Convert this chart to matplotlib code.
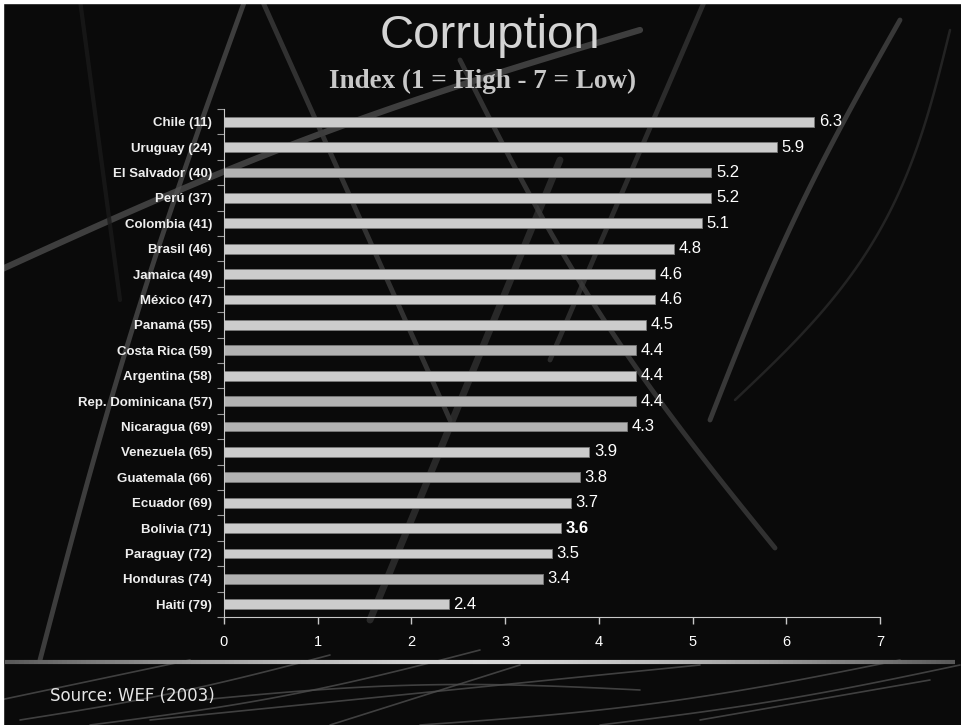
import numpy as np
import matplotlib.pyplot as plt
from matplotlib.collections import LineCollection

countries = ['Chile (11)', 'Uruguay (24)', 'El Salvador (40)', 'Perú (37)', 'Colombia (41)',
             'Brasil (46)', 'Jamaica (49)', 'México (47)', 'Panamá (55)', 'Costa Rica (59)',
             'Argentina (58)', 'Rep. Dominicana (57)', 'Nicaragua (69)', 'Venezuela (65)',
             'Guatemala (66)', 'Ecuador (69)', 'Bolivia (71)', 'Paraguay (72)', 'Honduras (74)',
             'Haití (79)']
scores = [6.3, 5.9, 5.2, 5.2, 5.1, 4.8, 4.6, 4.6, 4.5, 4.4, 4.4, 4.4, 4.3, 3.9, 3.8, 3.7,
          3.6, 3.5, 3.4, 2.4]
darker = ['El Salvador (40)', 'Costa Rica (59)', 'Rep. Dominicana (57)', 'Nicaragua (69)',
          'Guatemala (66)', 'Honduras (74)']
xticks = [0, 1, 2, 3, 4, 5, 6, 7]

BG = '#0a0a0a'
W, H = 962, 725

fig = plt.figure(figsize=(W / 100, H / 100), dpi=100, facecolor=BG)

# background streaks, drawn in pixel coords on a full-figure axes
bg = fig.add_axes([0, 0, 1, 1], zorder=0)
bg.set_xlim(0, W)
bg.set_ylim(H, 0)
bg.axis('off')
bg.set_facecolor(BG)


def streak(p0, p1, bend, lw, c, a):
    t = np.linspace(0, 1, 60)
    x = p0[0] + (p1[0] - p0[0]) * t
    y = p0[1] + (p1[1] - p0[1]) * t
    nx, ny = -(p1[1] - p0[1]), (p1[0] - p0[0])
    n = np.hypot(nx, ny)
    off = bend * np.sin(np.pi * t)
    bg.plot(x + off * nx / n, y + off * ny / n, color=c, lw=lw, alpha=a,
            solid_capstyle='round')


streak((245, 0), (40, 660), 10, 3.5, '#4a4a4a', 0.8)
streak((0, 270), (640, 30), -15, 4.5, '#505050', 0.75)
streak((262, 0), (450, 420), 0, 3.5, '#3c3c3c', 0.8)
streak((560, 160), (370, 620), 0, 5, '#303030', 0.8)
streak((460, 60), (775, 548), 20, 3.5, '#3c3c3c', 0.8)
streak((705, 0), (550, 360), 0, 3.5, '#3a3a3a', 0.7)
streak((900, 20), (710, 420), 10, 3.5, '#444444', 0.8)
streak((950, 30), (735, 400), -40, 1.8, '#2e2e2e', 0.7)
streak((80, 0), (120, 300), 0, 3, '#1a1a1a', 0.8)

# streaks below the separator
for p0, p1, b in [((20, 720), (330, 655), 5), ((90, 725), (480, 650), 8),
                  ((150, 720), (700, 665), 0), ((420, 725), (900, 660), 10),
                  ((600, 725), (960, 665), 5), ((200, 700), (640, 690), -10),
                  ((330, 725), (520, 665), 0), ((700, 720), (930, 680), 0),
                  ((0, 700), (190, 660), 0)]:
    streak(p0, p1, b, 1.2, '#4e4e4e', 0.8)

# gradient separator line
xs = np.linspace(5, 955, 200)
segs = [[(xs[i], 662), (xs[i + 1], 662)] for i in range(len(xs) - 1)]
g = 1 - np.abs(np.linspace(-1, 1, len(segs))) ** 1.5
cols = [(0.35 + 0.5 * v, 0.35 + 0.5 * v, 0.35 + 0.5 * v) for v in g]
bg.add_collection(LineCollection(segs, colors=cols, linewidths=3))

# white border strips at the top and left
bg.add_patch(plt.Rectangle((0, 0), W, 3, color='white', zorder=5))
bg.add_patch(plt.Rectangle((0, 0), 3, H, color='white', zorder=5))

# bar chart
ax = fig.add_axes([224 / W, (H - 617) / H, 656 / W, 508 / H], zorder=2)
ax.patch.set_alpha(0)
y = np.arange(len(countries))
colors = ['#b2b2b2' if c in darker else '#cccccc' for c in countries]
ax.barh(y, scores, height=0.38, color=colors, edgecolor='#7a7a7a', linewidth=0.6)
ax.set_ylim(len(countries) - 0.5, -0.5)
ax.set_xlim(0, 7)

for i, v in enumerate(scores):
    bold = countries[i].startswith('Bolivia')
    ax.text(v + 0.05, i, f'{v:.1f}', va='center', ha='left', fontsize=12,
            color='white', family='Liberation Sans',
            fontweight='bold' if bold else 'normal')

ax.set_yticks(y)
ax.set_yticklabels(countries, fontsize=9.5, fontweight='bold', color='#eeeeee',
                   family='Liberation Sans')
ax.set_yticks(np.arange(len(countries) + 1) - 0.5, minor=True)
ax.tick_params(axis='y', which='major', length=0, pad=8.5)
ax.tick_params(axis='y', which='minor', length=5, color='#9a9a9a', width=0.8)

ax.set_xticks(xticks)
ax.set_xticklabels([str(t) for t in xticks], fontsize=10.5, color='white',
                   family='Liberation Sans')
ax.tick_params(axis='x', length=5, color='#c8c8c8', width=1, pad=8)

for s in ['top', 'right']:
    ax.spines[s].set_visible(False)
ax.spines['left'].set_color('#c8c8c8')
ax.spines['bottom'].set_color('#c8c8c8')

fig.text(490 / W, 1 - 36 / H, 'Corruption', ha='center', va='center', fontsize=34,
         color='#d4d4d4', family='Liberation Sans')
fig.text(483 / W, 1 - 81 / H, 'Index (1 = High - 7 = Low)', ha='center', va='center',
         fontsize=19.5, fontweight='bold', color='#c8c8c8', family='Liberation Serif')
fig.text(50 / W, 1 - 696 / H, 'Source: WEF (2003)', ha='left', va='center',
         fontsize=12, color='#e6e6e6', family='DejaVu Sans Condensed')

fig.savefig('out.png', dpi=100, facecolor=BG)
